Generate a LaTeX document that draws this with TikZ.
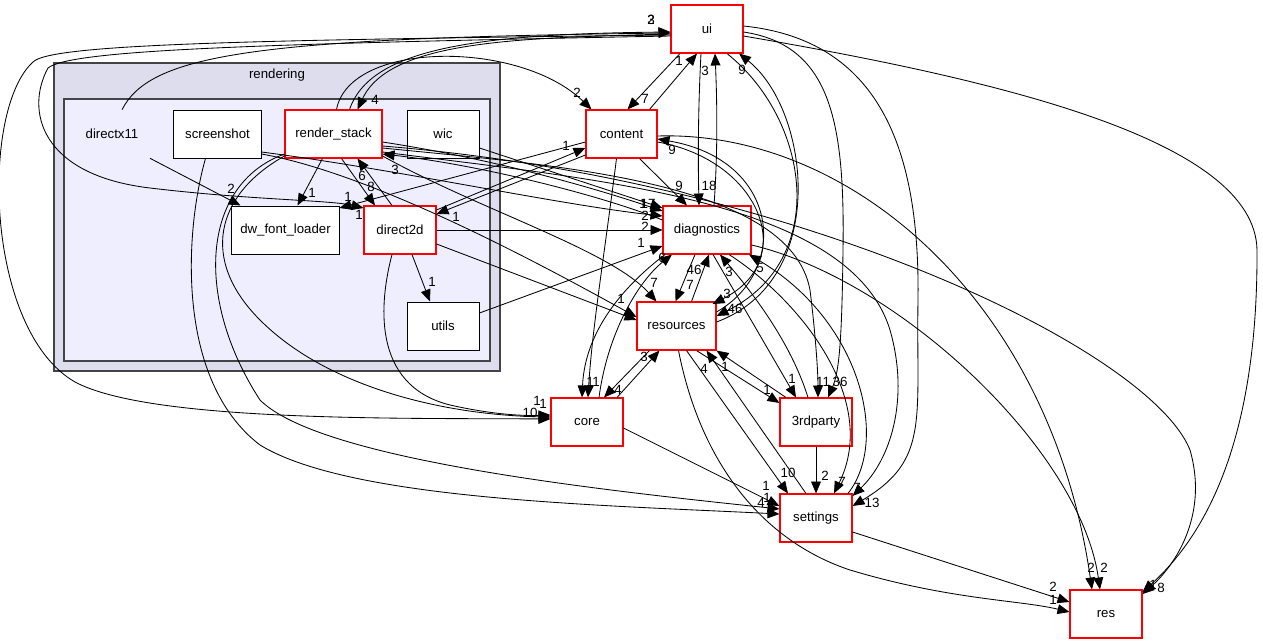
\documentclass[tikz,border=0pt]{standalone}
\usepackage{fontspec}
\setmainfont{Liberation Sans}
\usetikzlibrary{arrows.meta,calc}
\definecolor{clusterout}{HTML}{DDDDEE}
\definecolor{clusterin}{HTML}{EEEEFF}
\definecolor{clusterline}{HTML}{444444}

\begin{document}
\begin{tikzpicture}[x=0.025cm,y=-0.025cm,
  dirnode/.style={draw=red,fill=white,line width=0.75pt,minimum height=1.2cm,inner sep=0pt,font=\fontsize{9.4}{10}\selectfont},
  leafnode/.style={dirnode,draw=black,line width=0.7pt},
  dep/.style={-{Triangle[length=8.5pt,width=7pt]},line width=0.6pt},
  lbl/.style={font=\fontsize{9.5}{10}\selectfont,inner sep=0pt}]
\useasboundingbox (0,0) rectangle (1263,644);
%cluster rendering
\draw[fill=clusterout,draw=clusterline,line width=1pt] (54,63) rectangle (500,371);
\node[font=\fontsize{9.4}{10}\selectfont] (rendering) at (277,75) {rendering};
\draw[fill=clusterin,draw=clusterline,line width=1pt] (64,99) rectangle (490,361);
%nodes inside rendering
\node[minimum width=1.8cm,minimum height=1.2cm,inner sep=0pt,font=\fontsize{9.4}{10}\selectfont] (directx11) at (112,134) {directx11};
\node[leafnode,minimum width=2.175cm] (screenshot) at (217.5,134) {screenshot};
\node[dirnode,minimum width=2.425cm] (renderstack) at (333.5,134) {render\_stack};
\node[leafnode,minimum width=1.8cm] (wic) at (443,134) {wic};
\node[leafnode,minimum width=2.675cm] (dwfontloader) at (285.5,230) {dw\_font\_loader};
\node[dirnode,minimum width=1.8cm] (direct2d) at (400,230) {direct2d};
\node[leafnode,minimum width=1.8cm] (utils) at (443,326) {utils};
%other directories
\node[dirnode,minimum width=1.8cm] (uidir) at (707,29) {ui};
\node[dirnode,minimum width=1.775cm] (content) at (621.5,134) {content};
\node[dirnode,minimum width=2.2cm] (diagnostics) at (707,230) {diagnostics};
\node[dirnode,minimum width=1.975cm] (resources) at (676.5,326) {resources};
\node[dirnode,minimum width=1.8cm] (core) at (587,422) {core};
\node[dirnode,minimum width=1.8cm] (thirdparty) at (816,422) {3rdparty};
\node[dirnode,minimum width=1.8cm] (settings) at (816,518) {settings};
\node[dirnode,minimum width=1.8cm] (res) at (1106,614) {res};

%ui and content
\draw[dep] ($(uidir.south)+(-27,0)$) -- ($(content.north)+(6,0)$) node[lbl] at (645,99) {7};
\draw[dep] ($(content.north)+(28,0)$) -- ($(uidir.south)+(-10,0)$) node[lbl] at (679,61) {1};
\draw[dep] ($(uidir.south)+(-6,0)$) .. controls (698,110) and (698,160) .. ($(diagnostics.north)+(-8,0)$) node[lbl] at (709,186) {18};
\draw[dep] ($(diagnostics.north)+(7,0)$) .. controls (718,150) and (717,100) .. ($(uidir.south)+(8,0)$) node[lbl] at (705,71) {3};
%ui and rendering
\draw[dep] ($(uidir.west)+(0,5)$) .. controls (520,38) and (390,40) .. ($(renderstack.north)+(24,0)$) node[lbl] at (375,100) {4};
\draw[dep] ($(renderstack.north)+(16,0)$) .. controls (370,50) and (470,34) .. ($(uidir.west)+(0,3)$) node[lbl] at (651,20) {3};
\draw[dep] ($(directx11.north)+(10,0)$) .. controls (150,55) and (250,38) .. ($(uidir.west)+(0,4)$) node[lbl] at (651,20) {2};
\draw[dep] ($(renderstack.north)+(3,0)$) .. controls (350,40) and (520,40) .. ($(content.north)+(-30,0)$) node[lbl] at (577,93) {2};
\draw[dep] ($(uidir.west)+(0,6)$) .. controls (250,40) and (50,44) .. (33,62) .. controls (-20,110) and (-15,330) .. (75,382) .. controls (150,422) and (400,418) .. ($(core.west)+(0,-3)$) node[lbl] at (537,401) {1};
\draw[dep] ($(uidir.west)+(0,7)$) .. controls (250,44) and (70,50) .. (48,68) .. controls (25,110) and (40,175) .. (150,188) .. controls (250,200) and (330,200) .. ($(direct2d.west)+(0,-22)$) node[lbl] at (359,215) {1};
%inside rendering
\draw[dep] ($(directx11.south)+(38,0)$) -- ($(dwfontloader.north)+(-45,0)$) node[lbl] at (231,189) {2};
\draw[dep] ($(renderstack.south)+(-11,0)$) -- ($(dwfontloader.north)+(12,0)$) node[lbl] at (312,193) {1};
\draw[dep] ($(renderstack.south)+(8,0)$) -- ($(direct2d.north)+(-25,0)$) node[lbl] at (371,187) {8};
\draw[dep] ($(direct2d.north)+(-8,0)$) -- ($(renderstack.south)+(24,0)$) node[lbl] at (362,176) {6};
\draw[dep] ($(direct2d.south)+(12,0)$) -- ($(utils.north)+(-13,0)$) node[lbl] at (432,282) {1};
%content and rendering
\draw[dep] ($(content.west)+(0,8)$) -- ($(dwfontloader.east)+(0,-22)$) node[lbl] at (348,197) {1};
\draw[dep] ($(direct2d.east)+(0,-20)$) -- ($(content.west)+(0,14)$) node[lbl] at (566,146) {1};
\draw[dep] ($(content.west)+(0,21)$) -- ($(direct2d.east)+(0,-16)$) node[lbl] at (456,217) {1};
%into diagnostics from the left
\draw[dep] ($(wic.east)+(0,14)$) -- ($(diagnostics.west)+(0,-22)$) node[lbl] at (643,204) {1};
\draw[dep] ($(renderstack.east)+(0,8)$) .. controls (500,160) and (600,190) .. ($(diagnostics.west)+(0,-19)$) node[lbl] at (648,204) {17};
\draw[dep] ($(screenshot.east)+(0,18)$) .. controls (400,170) and (560,205) .. ($(diagnostics.west)+(0,-14)$) node[lbl] at (645,216) {2};
\draw[dep] (direct2d.east) -- (diagnostics.west) node[lbl] at (645,227) {2};
\draw[dep] ($(utils.east)+(0,-13)$) -- ($(diagnostics.west)+(0,16)$) node[lbl] at (641,243) {1};
\draw[dep] ($(diagnostics.west)+(0,-10)$) .. controls (600,195) and (480,165) .. ($(renderstack.east)+(0,20)$) node[lbl] at (395,170) {3};
%into resources from the left
\draw[dep] ($(direct2d.east)+(0,14)$) -- ($(resources.west)+(0,-6)$) node[lbl] at (621,299) {1};
\draw[dep] ($(screenshot.east)+(0,20)$) .. controls (380,175) and (560,275) .. ($(resources.west)+(0,-9)$);
\draw[dep] ($(renderstack.east)+(0,22)$) .. controls (480,210) and (610,250) .. ($(resources.north)+(-20,0)$) node[lbl] at (654,283) {7};
%content, diagnostics, resources
\draw[dep] ($(content.south)+(18,0)$) -- ($(diagnostics.north)+(-20,0)$) node[lbl] at (679,186) {9};
\draw[dep] ($(content.east)+(0,8)$) .. controls (760,160) and (800,260) .. ($(resources.east)+(-4,-22)$) node[lbl] at (727,294) {3};
\draw[dep] ($(resources.east)+(0,-14)$) .. controls (790,270) and (780,160) .. ($(content.east)+(0,5)$) node[lbl] at (672,150) {9};
\draw[dep] ($(uidir.south)+(20,0)$) .. controls (810,120) and (830,260) .. ($(resources.east)+(0,-10)$) node[lbl] at (735,309) {46};
\draw[dep] ($(resources.east)+(0,-4)$) .. controls (830,280) and (810,110) .. ($(uidir.south)+(32,0)$) node[lbl] at (742,70) {9};
\draw[dep] ($(diagnostics.south)+(-12,0)$) -- ($(resources.north)+(-1,0)$) node[lbl] at (690,285) {7};
\draw[dep] ($(resources.north)+(15,0)$) -- ($(diagnostics.south)+(2,0)$) node[lbl] at (694,270) {46};
%core
\draw[dep] ($(core.north)+(30,0)$) -- ($(resources.south)+(-17,0)$) node[lbl] at (644,357) {3};
\draw[dep] ($(resources.south)+(-27,0)$) -- ($(core.north)+(17,0)$) node[lbl] at (618,390) {4};
\draw[dep] ($(core.north)+(12,0)$) .. controls (608,330) and (640,280) .. ($(diagnostics.south)+(-35,0)$) node[lbl] at (662,258) {6};
\draw[dep] ($(diagnostics.south)+(-42,0)$) .. controls (625,285) and (585,330) .. ($(core.north)+(-5,0)$) node[lbl] at (590,382) {1};
\draw[dep] ($(content.south)+(-5,0)$) .. controls (605,250) and (592,330) .. ($(core.north)+(1,0)$) node[lbl] at (596,382) {1};
\draw[dep] ($(renderstack.west)+(0,22)$) .. controls (215,195) and (200,260) .. (260,320) .. controls (330,390) and (450,415) .. ($(core.west)+(0,-5)$) node[lbl] at (543,404) {1};
\draw[dep] ($(direct2d.south)+(-8,0)$) .. controls (380,300) and (370,385) .. (450,405) .. controls (490,414) and (520,416) .. ($(core.west)+(0,-7)$) node[lbl] at (530,413) {10};
%3rdparty
\draw[dep] ($(resources.south)+(20,0)$) -- ($(thirdparty.west)+(0,-19)$) node[lbl] at (767,390) {1};
\draw[dep] ($(thirdparty.north)+(-30,0)$) -- ($(resources.south)+(40,0)$) node[lbl] at (725,367) {1};
\draw[dep] ($(diagnostics.south)+(6,0)$) -- ($(thirdparty.north)+(-20,0)$) node[lbl] at (792,379) {1};
\draw[dep] ($(thirdparty.north)+(-8,0)$) .. controls (790,340) and (750,290) .. ($(diagnostics.south)+(13,0)$) node[lbl] at (729,272) {3};
\draw[dep] ($(renderstack.east)+(0,14)$) .. controls (550,165) and (790,180) .. (810,290) .. controls (815,330) and (818,370) .. ($(thirdparty.north)+(2,0)$) node[lbl] at (823,382) {11};
\draw[dep] ($(uidir.east)+(0,3)$) .. controls (830,45) and (845,120) .. (843,250) .. controls (842,330) and (840,370) .. ($(thirdparty.north)+(12,0)$) node[lbl] at (840,382) {36};
%settings
\draw[dep] ($(resources.south)+(10,0)$) -- ($(settings.north)+(-28,0)$) node[lbl] at (788,473) {10};
\draw[dep] ($(settings.north)+(-10,0)$) -- ($(resources.south)+(30,0)$) node[lbl] at (704,369) {4};
\draw[dep] (thirdparty.south) -- (settings.north) node[lbl] at (825,476) {2};
\draw[dep] ($(diagnostics.south)+(22,0)$) .. controls (800,300) and (880,400) .. ($(settings.north)+(18,0)$) node[lbl] at (842,482) {7};
\draw[dep] ($(settings.north)+(32,0)$) .. controls (890,440) and (860,320) .. ($(diagnostics.south)+(42,0)$) node[lbl] at (760,268) {5};
\draw[dep] ($(uidir.east)+(0,-3)$) .. controls (880,40) and (920,150) .. (918,300) .. controls (916,420) and (930,460) .. ($(settings.east)+(0,-12)$) node[lbl] at (872,503) {13};
\draw[dep] ($(renderstack.east)+(0,18)$) .. controls (600,180) and (850,200) .. (890,330) .. controls (910,400) and (890,460) .. ($(settings.east)+(0,-22)$) node[lbl] at (857,488) {7};
\draw[dep] ($(core.east)+(0,6)$) -- ($(settings.west)+(0,-12)$) node[lbl] at (766,486) {1};
\draw[dep] ($(screenshot.south)+(-12,0)$) .. controls (185,230) and (175,380) .. (260,445) .. controls (350,500) and (600,505) .. ($(settings.west)+(0,-4)$) node[lbl] at (761,503) {4};
\draw[dep] ($(renderstack.west)+(0,20)$) .. controls (200,185) and (195,300) .. (260,400) .. controls (320,460) and (600,490) .. ($(settings.west)+(0,-9)$) node[lbl] at (767,498) {1};
%res
\draw[dep] ($(settings.east)+(0,14)$) -- ($(res.west)+(0,-12)$) node[lbl] at (1053,587) {2};
\draw[dep] ($(resources.south)+(2,0)$) .. controls (700,460) and (760,540) .. (850,570) .. controls (950,600) and (1020,600) .. ($(res.west)+(0,-2)$) node[lbl] at (1053,600) {1};
\draw[dep] ($(content.east)+(0,2)$) .. controls (850,130) and (1050,300) .. ($(res.north)+(-14,0)$) node[lbl] at (1091,568) {2};
\draw[dep] ($(diagnostics.east)+(0,15)$) .. controls (900,280) and (1080,450) .. ($(res.north)+(-6,0)$) node[lbl] at (1104,568) {2};
\draw[dep] ($(renderstack.east)+(0,12)$) .. controls (800,180) and (1150,350) .. (1190,450) .. controls (1210,520) and (1170,570) .. ($(res.east)+(0,-20)$) node[lbl] at (1153,585) {1};
\draw[dep] ($(uidir.east)+(0,7)$) .. controls (1000,80) and (1255,140) .. (1257,250) .. controls (1258,450) and (1200,540) .. ($(res.east)+(0,-22)$) node[lbl] at (1161,588) {8};
\end{tikzpicture}
\end{document}
